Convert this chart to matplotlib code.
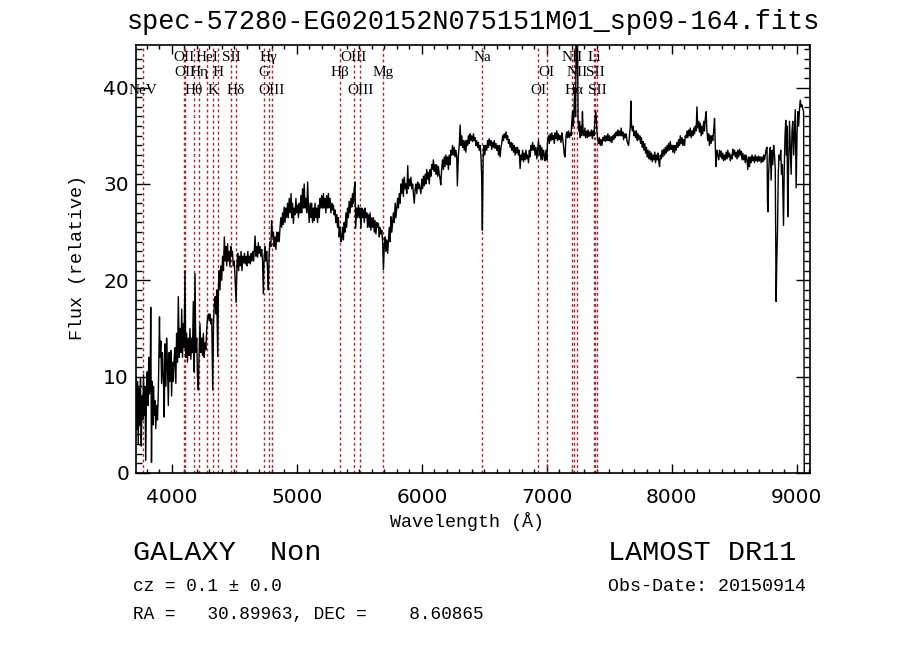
import matplotlib
matplotlib.use('Agg')
import matplotlib.pyplot as plt
from matplotlib.ticker import MultipleLocator

plt.rcParams['font.family'] = 'Liberation Mono'

title = 'spec-57280-EG020152N075151M01_sp09-164.fits'
obj_class = 'GALAXY'
subclass = 'Non'
z = 0.1
z_err = 0.0
ra = 30.89963
dec = 8.60865
release = 'LAMOST DR11'
obs_date = '20150914'

# spectral lines (rest wavelength), label row 1 = top
line_names = ['NeV', 'OII', 'OII', 'H\u03b8', 'H\u03b7', 'HeI', 'K', 'H', 'SII', 'H\u03b4',
              'G', 'H\u03b3', 'OIII', 'H\u03b2', 'OIII', 'OIII', 'Mg', 'Na', 'OI', 'OI',
              'NII', 'H\u03b1', 'NII', 'Li', 'SII', 'SII']
line_rest = [3426, 3727, 3729, 3798, 3835, 3889, 3934, 3968, 4068, 4102,
             4304, 4340, 4363, 4861, 4959, 5007, 5175, 5893, 6300, 6364,
             6548, 6563, 6583, 6708, 6716, 6731]
line_row = [3, 1, 2, 3, 2, 1, 3, 2, 1, 3,
            2, 1, 3, 2, 1, 3, 2, 1, 3, 2,
            1, 3, 2, 1, 2, 3]

# spectrum: (wavelength, flux)
spec_blue = [
    (3705, 0.0), (3712, 10.0), (3718, 4.5), (3724, 9.5), (3730, 3.0), (3736, 8.8), (3742, 5.0),
    (3748, 9.8), (3754, 2.8), (3760, 8.0), (3766, 5.5), (3772, 10.2), (3778, 6.0), (3784, 9.0),
    (3790, 1.3), (3796, 8.5), (3802, 10.5), (3808, 7.0), (3814, 12.0), (3820, 8.2), (3826, 10.5),
    (3830, 17.2), (3836, 1.1), (3842, 9.5), (3848, 5.0), (3852, 9.0), (3858, 6.0), (3864, 7.5),
    (3870, 4.6), (3877, 7.0), (3884, 5.5), (3891, 8.5), (3900, 16.2), (3904, 12.0), (3911, 13.7),
    (3917, 9.3), (3924, 12.5), (3931, 10.0), (3938, 5.8), (3944, 13.4), (3951, 9.0), (3957, 14.0),
    (3964, 11.0), (3971, 7.0), (3977, 12.5), (3984, 9.5), (3991, 12.7), (3997, 8.0), (4004, 11.5),
    (4011, 9.5), (4018, 12.0), (4024, 13.0), (4031, 9.3), (4037, 14.5), (4044, 11.5), (4051, 18.3),
    (4058, 12.0), (4064, 15.0), (4071, 12.5), (4078, 17.0), (4084, 12.0), (4091, 15.5), (4097, 13.0),
    (4104, 21.0), (4110, 12.0), (4117, 14.5), (4124, 11.5), (4131, 14.0), (4138, 12.2), (4144, 15.0),
    (4151, 11.8), (4158, 14.0), (4164, 12.5), (4171, 17.8), (4177, 10.5), (4184, 20.7), (4191, 12.5),
    (4198, 14.0), (4204, 10.0), (4211, 8.6), (4218, 13.0), (4224, 15.5), (4231, 12.5), (4238, 14.0),
    (4245, 12.2), (4251, 14.5), (4258, 12.0), (4264, 13.5), (4271, 12.8), (4278, 15.0), (4284, 16.0),
    (4291, 16.5), (4298, 15.8), (4304, 16.5), (4311, 15.5), (4318, 16.0), (4326, 8.6), (4332, 15.5),
    (4339, 17.5), (4346, 18.3), (4352, 16.5), (4358, 19.0), (4366, 12.1), (4372, 19.5), (4378, 21.0),
    (4384, 19.0), (4391, 21.5), (4398, 20.0), (4405, 22.5), (4412, 21.0), (4419, 24.5),
]
spec_green = [
    (4426, 22.0), (4432, 23.5), (4438, 21.5), (4445, 23.8), (4451, 22.0), (4458, 23.0), (4464, 21.4),
    (4471, 23.5), (4478, 22.5), (4484, 23.0), (4491, 21.5), (4498, 22.0), (4504, 20.5), (4513, 17.7),
    (4520, 21.5), (4526, 22.8), (4533, 21.0), (4540, 22.5), (4546, 21.5), (4553, 23.0), (4560, 21.0),
    (4567, 22.5), (4573, 21.8), (4580, 22.8), (4587, 21.7), (4594, 22.5), (4600, 21.5), (4607, 23.0),
    (4614, 21.8), (4620, 22.5), (4627, 21.7), (4634, 22.8), (4640, 22.0), (4647, 23.0), (4654, 22.0),
    (4660, 23.5), (4665, 24.6), (4672, 22.5), (4678, 23.5), (4685, 22.4), (4691, 23.9), (4698, 22.8),
    (4705, 23.5), (4711, 22.5), (4718, 23.2), (4725, 22.0), (4731, 18.6), (4738, 22.5), (4745, 23.5),
    (4751, 22.0), (4758, 23.0), (4765, 21.0), (4771, 19.0), (4778, 23.0), (4785, 24.0), (4791, 23.5),
    (4798, 26.2), (4805, 24.5), (4812, 25.0), (4818, 23.5), (4825, 24.5), (4832, 23.2), (4838, 25.0),
    (4845, 24.0), (4851, 25.0), (4858, 24.0), (4865, 25.5), (4871, 26.5), (4878, 25.5), (4885, 27.0),
    (4891, 25.8), (4898, 27.6), (4905, 26.0), (4911, 27.5), (4918, 26.5), (4925, 28.0), (4931, 26.5),
    (4938, 28.5), (4945, 27.0), (4953, 29.0), (4958, 26.5), (4965, 28.0), (4972, 25.9), (4978, 27.5),
    (4985, 26.8), (4992, 28.5), (4998, 27.0), (5005, 27.8), (5012, 26.5), (5018, 28.0), (5025, 27.0),
    (5032, 28.8), (5038, 27.0), (5045, 29.5), (5052, 27.5), (5058, 30.0), (5065, 27.5), (5072, 28.5),
    (5078, 27.0), (5086, 30.2), (5092, 27.5), (5098, 26.0), (5105, 28.0), (5112, 26.5), (5118, 28.0),
    (5125, 26.0), (5132, 27.5), (5138, 26.2), (5145, 28.0), (5152, 26.5), (5158, 27.5), (5165, 26.0),
    (5172, 27.8), (5178, 26.5), (5185, 28.5), (5192, 27.5), (5198, 28.8), (5205, 27.5), (5212, 29.0),
    (5218, 27.5), (5225, 28.5), (5232, 27.0), (5238, 28.8), (5245, 27.5), (5252, 29.0), (5258, 27.5),
    (5265, 28.5), (5272, 27.0), (5279, 28.0), (5285, 27.3), (5292, 27.8), (5298, 26.8), (5305, 27.3),
    (5312, 26.0), (5318, 26.8), (5325, 25.5), (5332, 26.5), (5338, 24.5), (5345, 25.5), (5352, 24.0),
    (5358, 24.2), (5365, 25.5), (5372, 24.2), (5378, 26.0), (5385, 25.0), (5392, 27.0), (5398, 25.5),
    (5405, 27.5), (5412, 26.5), (5418, 28.2), (5425, 27.0), (5432, 28.5), (5439, 27.6), (5445, 29.0),
    (5452, 28.0), (5458, 29.5), (5465, 30.2), (5470, 25.4), (5479, 27.5), (5485, 26.5), (5492, 27.8),
    (5499, 26.5), (5505, 27.5), (5512, 25.4), (5519, 27.5), (5525, 26.5), (5532, 27.3), (5539, 26.0),
    (5545, 27.5), (5552, 26.5), (5559, 27.0), (5565, 25.5), (5572, 26.8), (5579, 25.5), (5585, 27.0),
    (5592, 25.2), (5599, 26.5), (5605, 25.5), (5612, 26.5), (5619, 25.0), (5625, 26.2), (5632, 24.8),
    (5639, 26.0), (5645, 25.5), (5652, 25.9), (5659, 24.5), (5665, 25.5), (5672, 24.8), (5679, 25.2),
    (5686, 24.0), (5692, 21.1), (5699, 23.5), (5706, 24.5), (5712, 23.0), (5719, 24.2), (5726, 22.8),
    (5732, 24.0), (5739, 25.5), (5746, 24.0), (5752, 26.6), (5759, 25.0), (5766, 26.0), (5772, 27.0),
    (5779, 26.0), (5786, 28.0), (5792, 26.5), (5799, 27.5), (5806, 28.5), (5812, 27.5), (5819, 29.0),
    (5826, 28.0), (5832, 30.0), (5839, 29.0), (5846, 30.5), (5852, 28.7), (5859, 30.7), (5866, 29.5),
    (5872, 30.0), (5879, 29.0), (5887, 31.9), (5892, 29.5), (5899, 30.5), (5906, 29.8), (5912, 30.7),
    (5919, 29.5), (5926, 30.0), (5932, 29.0), (5939, 28.0), (5946, 29.5), (5952, 30.0), (5959, 29.0),
    (5966, 30.2), (5972, 29.5), (5979, 30.0),
]
spec_red = [
    (5992, 29.0), (5999, 30.5), (6006, 29.5), (6012, 30.8), (6019, 29.8), (6026, 31.0), (6032, 30.0),
    (6039, 31.5), (6046, 30.5), (6052, 31.2), (6059, 30.0), (6066, 31.5), (6072, 30.8), (6079, 32.0),
    (6085, 31.5), (6092, 32.5), (6099, 31.3), (6106, 32.0), (6112, 31.0), (6119, 32.0), (6126, 30.8),
    (6132, 31.8), (6139, 31.0), (6146, 30.5), (6151, 29.9), (6158, 31.5), (6165, 32.5), (6172, 31.5),
    (6179, 32.8), (6185, 31.8), (6192, 33.0), (6199, 32.0), (6206, 32.8), (6212, 31.5), (6219, 33.0),
    (6226, 32.0), (6232, 33.5), (6239, 33.0), (6245, 34.0), (6252, 33.0), (6259, 33.8), (6265, 32.8),
    (6272, 33.5), (6279, 32.8), (6284, 29.8), (6292, 33.0), (6299, 34.0), (6306, 36.1), (6312, 34.0),
    (6319, 35.0), (6326, 33.8), (6332, 34.5), (6339, 33.5), (6346, 34.5), (6352, 33.3), (6359, 34.5),
    (6366, 34.0), (6372, 35.0), (6379, 34.2), (6386, 35.2), (6392, 34.5), (6399, 35.0), (6406, 34.4),
    (6413, 35.2), (6419, 34.5), (6426, 34.8), (6432, 34.0), (6439, 34.5), (6446, 33.8), (6452, 34.3),
    (6459, 33.5), (6466, 34.0), (6472, 33.0), (6478, 31.0), (6484, 25.2), (6490, 32.5), (6496, 34.0),
    (6503, 33.0), (6510, 34.0), (6519, 33.5), (6526, 34.5), (6532, 33.8), (6539, 34.7), (6546, 34.0),
    (6552, 34.5), (6559, 33.6), (6566, 34.3), (6573, 33.8), (6579, 34.5), (6586, 33.7), (6593, 34.2),
    (6599, 33.5), (6606, 34.0), (6613, 33.0), (6619, 34.0), (6626, 32.8), (6633, 33.8), (6639, 34.2),
    (6646, 35.0), (6653, 34.5), (6659, 35.2), (6666, 34.8), (6673, 35.4), (6679, 34.6), (6686, 35.0),
    (6693, 34.2), (6699, 34.6), (6706, 33.8), (6713, 34.3), (6719, 33.5), (6726, 34.2), (6733, 33.3),
    (6739, 34.0), (6746, 33.0), (6753, 33.8), (6759, 33.2), (6766, 33.8), (6773, 33.0), (6779, 33.5),
    (6786, 31.6), (6793, 33.0), (6799, 32.5), (6806, 33.5), (6813, 32.3), (6819, 33.2), (6826, 32.5),
    (6833, 33.5), (6840, 32.6), (6846, 33.0), (6853, 32.2), (6860, 33.5), (6866, 32.8), (6873, 34.0),
    (6880, 33.5), (6886, 34.3), (6893, 33.5), (6900, 34.0), (6906, 33.0), (6913, 33.8), (6920, 32.6),
    (6926, 33.5), (6933, 34.5), (6940, 33.0), (6946, 34.0), (6953, 32.5), (6960, 33.8), (6966, 32.5),
    (6973, 33.5), (6980, 33.0), (6986, 32.4), (6993, 33.5), (7000, 32.5), (7006, 34.5), (7013, 35.0),
    (7020, 34.2), (7026, 35.2), (7033, 34.5), (7040, 35.3), (7046, 34.6), (7053, 35.0), (7060, 34.2),
    (7066, 35.3), (7073, 34.7), (7080, 35.5), (7086, 34.5), (7093, 35.2), (7100, 34.6), (7106, 35.0),
    (7113, 34.3), (7120, 35.3), (7126, 34.8), (7133, 34.0), (7140, 33.0), (7146, 32.8), (7153, 35.0),
    (7160, 35.4), (7166, 34.8), (7173, 35.5), (7180, 34.8), (7187, 35.3), (7193, 35.0), (7200, 36.5),
    (7206, 37.5), (7212, 36.0), (7219, 38.5), (7224, 40.0), (7230, 37.0), (7235, 46.0), (7240, 42.0),
    (7245, 46.0), (7250, 36.5), (7256, 35.5), (7262, 36.5), (7267, 34.8), (7273, 36.0), (7279, 35.0),
    (7285, 37.5), (7290, 35.5), (7297, 35.0), (7304, 35.8), (7310, 34.8), (7317, 35.5), (7324, 34.8),
    (7330, 35.6), (7337, 34.9), (7344, 35.4), (7350, 35.0), (7357, 35.6), (7364, 34.7), (7370, 35.5),
    (7377, 35.0), (7384, 36.5), (7390, 37.5), (7395, 37.0), (7401, 35.5), (7408, 34.5), (7415, 34.2),
    (7421, 34.8), (7428, 34.0), (7435, 34.6), (7441, 34.0), (7448, 34.8), (7455, 34.5), (7461, 35.0),
    (7468, 34.4), (7475, 35.0), (7481, 34.5), (7488, 35.2), (7495, 34.5), (7501, 35.0), (7508, 34.4),
    (7515, 34.9), (7521, 34.3), (7528, 35.0), (7535, 34.6), (7541, 35.2), (7548, 34.8), (7555, 35.4),
    (7561, 35.0), (7568, 35.6), (7575, 35.0), (7581, 35.5), (7588, 35.0), (7595, 35.8), (7601, 35.0),
    (7608, 35.4), (7614, 34.6), (7621, 35.2), (7628, 34.8), (7635, 35.2), (7641, 34.5), (7648, 34.2),
    (7654, 34.0), (7661, 35.0), (7668, 36.0), (7672, 38.6), (7678, 36.0), (7684, 35.5), (7690, 36.0),
    (7697, 35.0),
]
spec_nir = [
    (7704, 35.5), (7710, 34.8), (7717, 35.5), (7724, 34.5), (7730, 35.2), (7737, 34.6), (7744, 35.0),
    (7750, 34.2), (7757, 34.8), (7764, 33.8), (7770, 34.4), (7777, 33.5), (7784, 34.2), (7790, 33.2),
    (7797, 33.8), (7804, 32.8), (7810, 33.5), (7817, 32.6), (7824, 33.4), (7830, 32.5), (7837, 33.2),
    (7844, 32.3), (7850, 33.0), (7857, 32.5), (7864, 33.3), (7870, 32.2), (7877, 33.0), (7884, 32.5),
    (7890, 33.2), (7897, 32.2), (7902, 31.8), (7908, 33.0), (7915, 32.6), (7922, 33.5), (7928, 32.8),
    (7935, 33.6), (7942, 33.0), (7948, 33.8), (7955, 33.2), (7962, 34.0), (7968, 33.4), (7975, 34.2),
    (7982, 33.5), (7988, 34.4), (7995, 33.6), (8002, 34.0), (8008, 33.3), (8015, 34.0), (8022, 33.2),
    (8028, 34.0), (8035, 33.5), (8042, 34.3), (8048, 33.8), (8055, 34.6), (8062, 34.0), (8068, 35.0),
    (8075, 34.2), (8082, 34.8), (8088, 34.0), (8095, 34.6), (8102, 34.0), (8108, 35.0), (8115, 34.8),
    (8122, 35.5), (8128, 34.8), (8135, 35.6), (8142, 35.0), (8148, 35.8), (8155, 34.8), (8162, 35.5),
    (8168, 35.0), (8175, 35.8), (8182, 35.2), (8188, 36.0), (8195, 35.5), (8201, 38.0), (8208, 35.8),
    (8215, 36.5), (8221, 35.4), (8228, 36.3), (8235, 35.0), (8241, 36.0), (8248, 35.2), (8255, 36.5),
    (8261, 35.5), (8268, 36.8), (8275, 37.5), (8281, 35.5), (8288, 34.5), (8295, 35.2), (8301, 34.0),
    (8308, 35.0), (8315, 34.2), (8321, 35.0), (8328, 34.5), (8335, 35.5), (8342, 36.8), (8348, 34.0),
    (8353, 31.8), (8360, 33.5), (8368, 33.0), (8375, 32.5), (8382, 33.5), (8388, 32.8), (8395, 33.4),
    (8402, 32.6), (8408, 33.2), (8415, 32.4), (8422, 33.0), (8428, 32.5), (8435, 33.3), (8442, 32.6),
    (8448, 33.5), (8455, 32.8), (8462, 33.2), (8468, 32.4), (8475, 33.0), (8482, 32.6), (8488, 33.6),
    (8495, 33.0), (8502, 33.5), (8508, 32.8), (8515, 33.3), (8522, 32.6), (8528, 33.5), (8535, 32.8),
    (8542, 33.6), (8548, 33.0), (8555, 33.4), (8562, 32.5), (8568, 33.2), (8575, 32.5), (8582, 33.0),
    (8588, 32.2), (8595, 33.0), (8602, 32.5), (8608, 31.5), (8615, 32.8), (8622, 31.8), (8628, 32.8),
    (8635, 32.2), (8642, 33.0), (8648, 32.4), (8655, 32.8), (8662, 32.2), (8668, 33.0), (8675, 32.4),
    (8682, 32.8), (8688, 32.3), (8695, 32.9), (8702, 32.4), (8708, 32.8), (8715, 32.2), (8722, 32.8),
    (8728, 32.3), (8735, 33.0), (8742, 32.5), (8748, 33.0), (8755, 33.6), (8762, 33.8), (8766, 28.0),
    (8770, 27.1), (8775, 31.0), (8781, 33.0), (8788, 33.8), (8795, 30.4), (8802, 33.5), (8808, 32.0),
    (8815, 34.0), (8822, 33.0), (8828, 31.5), (8835, 17.8), (8840, 22.0), (8846, 25.2), (8852, 31.0),
    (8858, 33.0), (8865, 32.5), (8872, 33.5), (8878, 31.0), (8885, 32.0), (8894, 25.7), (8900, 31.5),
    (8906, 35.0), (8912, 36.6), (8918, 33.0), (8922, 36.0), (8928, 26.6), (8935, 32.0), (8942, 36.5),
    (8948, 34.0), (8955, 31.0), (8962, 35.5), (8968, 36.5), (8975, 33.0), (8982, 35.5), (8988, 37.7),
    (8995, 29.6), (9002, 35.0), (9008, 37.5), (9015, 36.0), (9022, 37.8), (9028, 38.7), (9035, 38.0),
    (9042, 38.2), (9048, 37.8), (9055, 37.5), (9060, 0.0),
]

spec = spec_blue + spec_green + spec_red + spec_nir
wave = [p[0] for p in spec]
flux = [p[1] for p in spec]

fig = plt.figure(figsize=(9, 6.49), dpi=100)
ax = fig.add_axes([0.1511, 0.2712, 0.7489, 0.6599])

# shifted line markers
xtr = ax.get_xaxis_transform()
row_y = {1: 0.971, 2: 0.934, 3: 0.892}
for name, rest, row in zip(line_names, line_rest, line_row):
    lam = rest * (1 + z)
    ax.axvline(lam, color='#b22222', lw=1.0, ls=(0, (2, 2)))
    ax.text(lam, row_y[row], name, transform=xtr, ha='center', va='center',
            fontsize=11, family='Liberation Serif')

ax.plot(wave, flux, color='k', lw=1.0)

ax.set_xlim(3712, 9106)
ax.set_ylim(0, 44.45)
ax.set_xticks([4000, 5000, 6000, 7000, 8000, 9000])
ax.set_yticks([0, 10, 20, 30, 40])
ax.xaxis.set_minor_locator(MultipleLocator(100))
ax.yaxis.set_minor_locator(MultipleLocator(1))
ax.tick_params(axis='x', which='major', direction='in', length=6.5, width=1, top=True, pad=11)
ax.tick_params(axis='x', which='minor', direction='in', length=3.2, width=1, top=True)
ax.tick_params(axis='y', which='major', direction='in', length=10, width=1, right=True, pad=5)
ax.tick_params(axis='y', which='minor', direction='in', length=4.3, width=1, right=True)
for lab in ax.get_xticklabels() + ax.get_yticklabels():
    lab.set_fontfamily('DejaVu Sans')
    lab.set_fontsize(14.5)
for s in ax.spines.values():
    s.set_linewidth(1.2)

fig.text(0.5256, 0.966, title, ha='center', va='center', fontsize=19.4)
fig.text(0.0856, 0.6025, 'Flux (relative)', rotation=90, ha='center', va='center', fontsize=13.2)
fig.text(0.519, 0.1957, 'Wavelength (\u00c5)', ha='center', va='center', fontsize=13.2)

fig.text(0.1478, 0.1371, obj_class + '  ' + subclass, ha='left', va='baseline', fontsize=20.5)
fig.text(0.1478, 0.0894, 'cz = %.1f \u00b1 %.1f' % (z, z_err), ha='left', va='baseline', fontsize=12.8)
fig.text(0.1478, 0.0462, 'RA = %10.5f, DEC = %10.5f' % (ra, dec), ha='left', va='baseline', fontsize=12.8)
fig.text(0.6756, 0.1371, release, ha='left', va='baseline', fontsize=20.5)
fig.text(0.6756, 0.0894, 'Obs-Date: ' + obs_date, ha='left', va='baseline', fontsize=13.2)

fig.savefig('out.png', dpi=100)
